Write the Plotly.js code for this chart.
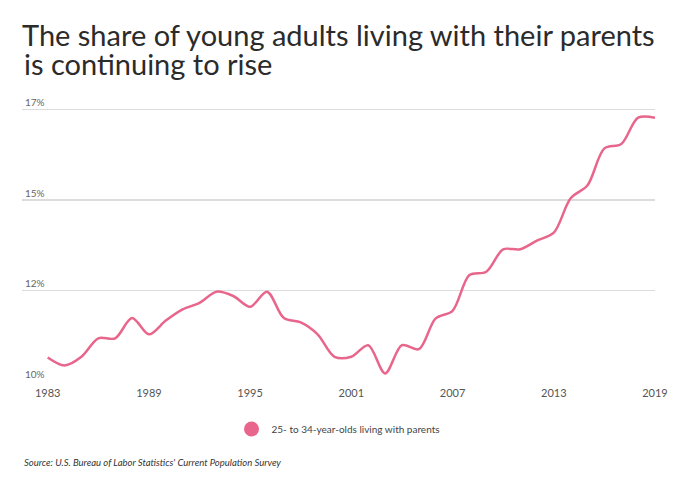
<!DOCTYPE html>
<html>
<head>
<meta charset="utf-8">
<script src="https://cdn.plot.ly/plotly-3.0.1.min.js"></script>
<style>html,body{margin:0;padding:0;background:#fff;}#chart{width:685px;height:500px;}</style>
</head>
<body>
<div id="chart"></div>
<script>
const years = [1983,1984,1985,1986,1987,1988,1989,1990,1991,1992,1993,1994,1995,1996,1997,1998,1999,2000,2001,2002,2003,2004,2005,2006,2007,2008,2009,2010,2011,2012,2013,2014,2015,2016,2017,2018,2019];
const sharePct = [10.65,10.43,10.67,11.18,11.18,11.74,11.29,11.67,11.98,12.16,12.47,12.35,12.05,12.47,11.74,11.62,11.29,10.67,10.67,10.99,10.21,10.99,10.88,11.73,11.94,12.93,13.02,13.64,13.64,13.88,14.10,15.05,15.41,16.43,16.55,17.28,17.28];
const yTickVals = [10,12.5,15,17.5];
const yTickText = ['10%','12%','15%','17%'];
const xTickVals = [1983,1989,1995,2001,2007,2013,2019];
const seriesName = '25- to 34-year-olds living with parents';
const titleLine1 = 'The share of young adults living with their parents';
const titleLine2 = 'is continuing to rise';
const sourceText = "Source: U.S. Bureau of Labor Statistics' Current Population Survey";

const pink = '#e8668c';
// 10% gridline at y=381, 17.5 gridline at y=109.7 -> 36.2 px per percentage point
const pxPerPt = (381 - 109.7) / 7.5;
const plotTop = 94, plotBottom = 381, plotH = plotBottom - plotTop;
const yMax = 10 + plotH / pxPerPt;
const data = [
  {x: years, y: sharePct, type: 'scatter', mode: 'lines', line: {color: pink, width: 2.5, shape: 'spline', smoothing: 0.9}, showlegend: false, hoverinfo: 'x+y'},
  {x: [null], y: [null], type: 'scatter', mode: 'markers', marker: {color: pink, size: 15, symbol: 'circle'}, name: seriesName, showlegend: true}
];
const titleFont = {family: 'Lato, sans-serif', size: 29, color: '#2b2b2b'};
const layout = {
  width: 685, height: 500,
  paper_bgcolor: '#fff', plot_bgcolor: '#fff',
  font: {family: 'Lato, "Open Sans", sans-serif', color: '#444'},
  margin: {l: 22, r: 30, t: plotTop, b: 500 - plotBottom},
  title: {text: titleLine1, font: titleFont, xref: 'container', yref: 'container', x: 22/685, xanchor: 'left', y: 1 - 36/500, yanchor: 'middle'},
  xaxis: {range: [1983 - 25.7/16.87, 2019], tickvals: xTickVals, ticktext: xTickVals.map(String), showgrid: false, zeroline: false, showline: false, ticks: '', tickfont: {size: 11, color: '#555'}, ticklabelstandoff: 4},
  yaxis: {range: [10, yMax], tickvals: yTickVals, ticktext: yTickText, showgrid: true, gridcolor: '#dcdcdc', gridwidth: 1.5, zeroline: false, showline: false, ticks: '', ticklabelposition: 'inside top', tickfont: {size: 10, color: '#666'}},
  legend: {orientation: 'h', x: 0.5, xanchor: 'center', y: (plotBottom - 429) / plotH, yanchor: 'middle', font: {size: 10, color: '#444'}, itemwidth: 30},
  annotations: [
    {text: titleLine2, xref: 'paper', yref: 'paper', x: 0, y: (plotBottom - 64) / plotH, xanchor: 'left', yanchor: 'middle', showarrow: false, font: titleFont},
    {text: sourceText, xref: 'paper', yref: 'paper', x: 0, y: (plotBottom - 463) / plotH, xanchor: 'left', yanchor: 'middle', showarrow: false, font: {size: 9.5, color: '#333', family: 'Lato, sans-serif', style: 'italic'}}
  ]
};
Plotly.newPlot('chart', data, layout, {displayModeBar: false, staticPlot: true});
</script>
</body>
</html>
